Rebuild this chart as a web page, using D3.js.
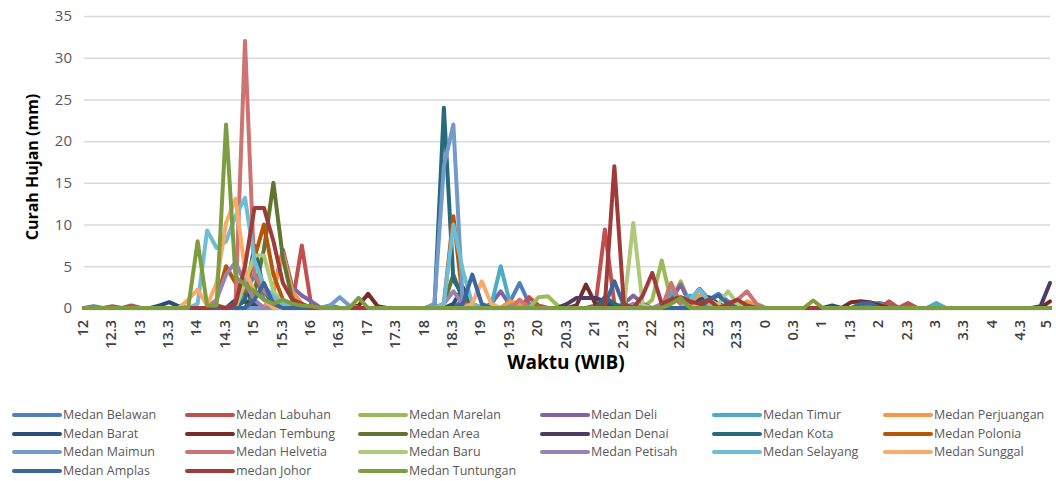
<!DOCTYPE html>
<html>
<head>
<meta charset="utf-8">
<title>Curah Hujan</title>
<script src="https://cdn.jsdelivr.net/npm/d3@7/dist/d3.min.js"></script>
<style>
  body { margin: 0; background: #fff; }
  svg { display: block; font-family: "Open Sans", sans-serif; }
</style>
</head>
<body>
<div id="chart"></div>
<script>
// tick labels on the time axis (every 30 minutes)
const tickLabels = ["12","12.3","13","13.3","14","14.3","15","15.3","16","16.3","17","17.3",
  "18","18.3","19","19.3","20","20.3","21","21.3","22","22.3","23","23.3",
  "0","0.3","1","1.3","2","2.3","3","3.3","4","4.3","5"];
const yTicks = [0, 5, 10, 15, 20, 25, 30, 35];

const names = ["Medan Belawan","Medan Labuhan","Medan Marelan","Medan Deli","Medan Timur","Medan Perjuangan",
  "Medan Barat","Medan Tembung","Medan Area","Medan Denai","Medan Kota","Medan Polonia",
  "Medan Maimun","Medan Helvetia","Medan Baru","Medan Petisah","Medan Selayang","Medan Sunggal",
  "Medan Amplas","medan Johor","Medan Tuntungan"];

const colors = ["#4F81BD","#C0504D","#9BBB59","#8064A2","#4BACC6","#F79646",
  "#2C4D75","#772C2A","#5F7530","#4D3B62","#276A7C","#B65708",
  "#729ACA","#CD7371","#AFC97A","#9983B5","#6FBDD1","#F9AB6B",
  "#3A679C","#9F3B38","#7E9D40"];

// rainfall every 10 minutes, 12.00 -> 5.00 (103 points); each line = 3 hours
const belawan = [
  0,0.2,0,0,0,0, 0,0,0,0,0,0, 0,0,0,0,0,1.5,
  4,1,0.5,0,0,0, 0,0,0.3,0,0,0, 0,0,0,0,0,0,
  0,0,0,0,0,0, 0,0,0,0.8,3,0.5, 0,0,0,0,0,0,
  0,0,0,0,0,0, 0,0,0,0,1,2.3, 1,1.7,0.8,0.3,0,0,
  0,0,0,0,0,0, 0,0,0,0,0,0.5, 0.6,0.3,0,0,0,0,
  0,0,0,0,0,0, 0,0,0,0,0,0, 0];
const labuhan = [
  0,0,0,0.2,0,0.3, 0,0,0,0,0,0, 0,0,0,0,0,0,
  0,0,0,0,0.5,7.5, 0.3,0,0,0,0,0, 0,0,0,0,0,0,
  0,0,0,0,0,0, 0,0,0,0,0,1.3, 0.3,0,0,0,0,0,
  0.3,9.4,0.5,0,0,0, 0,0,1.5,0.5,0,0, 0,0,0,0,0,0,
  0,0,0,0,0,0, 0,0,0,0,0,0, 0,0.8,0,0.6,0,0,
  0,0,0,0,0,0, 0,0,0,0,0,0, 0];
const marelan = [
  0,0,0,0,0,0, 0,0,0,0,0,0, 0,0,0,0,0,0,
  0,0,0,0,0,0, 0,0,0,0,0,0, 0,0,0,0,0,0,
  0,0,0,0,0,0, 0,0,0,0,0,0, 1.3,1.4,0.3,0,0,0,
  0,0,0,0,0,0, 1,5.7,0.8,3.2,0.5,0, 0,0,0,0.6,0,0,
  0,0,0,0,0,0, 0,0,0,0,0,0, 0,0,0,0,0,0,
  0,0,0,0,0,0, 0,0,0,0,0,0, 0];
const deli = [
  0,0,0,0,0,0, 0,0,0,0,0,0, 0,0,0,0,0,0,
  0,0,2,7,2.5,1.5, 0.8,0,0,0,0,0, 0,0,0,0,0,0,
  0,0.2,0,0,1,0, 0,0.5,2,0.3,0,0, 0,0,0,0,0,0,
  0,0,0,0.5,1.5,0.5, 0,0,1,2.8,0.5,0, 0,0,0,0,0,0,
  0,0,0,0,0,0, 0,0,0,0,0,0, 0,0,0,0,0,0,
  0.3,0,0,0,0,0, 0,0,0,0,0,0, 0];
const timur = [
  0,0,0,0,0,0, 0,0,0,0,0,0, 0,0,0,0,0,0,
  0,0,0,0,0,0, 0,0,0,0,0,0, 0,0,0,0,0,0,
  0,0,0,0,0,0, 0,0.3,5,0.5,0,0, 0,0,0,0,0,0,
  0,0,0,0,0,0, 0,0,2,1,1.5,0.8, 0,0,0,0,0,0,
  0,0,0,0,0,0, 0,0,0,0,0,0, 0,0,0,0,0,0,
  0.6,0,0,0,0,0, 0,0,0,0,0,0, 0];
const perjuangan = [
  0,0,0,0,0,0, 0,0,0,0,0,0, 0,0,0,0,0,0,
  0,0,2,6.5,2,0.5, 0,0,0,0,0,0, 0,0,0,0,0,0,
  0,0,0,0,0,0, 0,0,0,0.8,0.5,0, 0,0,0,0,0,0,
  0,0,0,0,0,0, 0,0,0,0,0.5,1.5, 0.5,0,0,0,0.8,0.3,
  0,0,0,0,0,0, 0,0,0,0,0,0, 0,0,0,0,0,0,
  0,0,0,0,0,0, 0,0,0,0,0,0, 0];
const barat = [
  0,0,0,0,0,0, 0,0,0.3,0.7,0.2,0, 0,0,0,0,1,2.2,
  0.5,0,0,0,0,0, 0,0,0,0,0,0, 0,0,0,0,0,0,
  0,0,0,0.5,2.5,0.5, 0,0,0,0,0,0, 0,0,0,0,0,0,
  0,0,0,0,0,0, 0,0,0,0,0,1, 1.3,0.5,0,0,0,0,
  0,0,0,0,0,0, 0,0.3,0,0,0,0, 0,0,0,0,0,0,
  0,0,0,0,0,0, 0,0,0,0,0,0, 0];
const tembung = [
  0,0,0,0,0,0, 0,0,0,0,0,0, 0,0,0,0,0,0,
  0,0,0,0,0,0, 0,0,0,0,0,0.3, 1.7,0.2,0,0,0,0,
  0,0,0,0,0,0, 0,0,0,0,0,0, 0,0,0,0,0.3,2.8,
  0.5,0.3,0,0,0,0, 0,0,0,0,0,0, 0,0,0,0,0,0,
  0,0,0,0,0,0, 0,0,0,0.7,0.8,0.7, 0.3,0,0,0,0,0,
  0,0,0,0,0,0, 0,0,0,0,0,0, 0.8];
const area = [
  0,0,0,0,0,0, 0,0,0,0,0,0, 0,0,0,0,0,0,
  2,7,15,6,1,0, 0,0,0,0,0,0, 0,0,0,0,0,0,
  0,0,0.5,4,1,0, 0,0,0,0,0,0, 0,0,0,0,0,0,
  0,0,0,0,0,0, 0,0,0,0,0,0, 0,0,0,0,0,0,
  0,0,0,0,0,0, 0,0,0,0,0,0, 0,0,0,0,0,0,
  0,0,0,0,0,0, 0,0,0,0,0,0, 0];
const denai = [
  0,0,0,0,0,0, 0,0,0,0,0,0, 0,0,0,0,0.3,0.8,
  0.3,0,0,0,0,0, 0,0,0,0,0,0, 0,0,0,0,0,0,
  0,0,0,0,0,0, 0,0,0,0,0,0, 0,0,0,0.5,1.2,1.2,
  1.2,0.8,0.3,0,0,0, 0,0,0,0,0,0, 0,0,0,0,0,0,
  0,0,0,0,0,0, 0,0,0,0,0,0, 0,0,0,0,0,0,
  0,0,0,0,0,0, 0,0,0,0,0,0.2, 3];
const kota = [
  0,0,0,0,0,0, 0,0,0,0,0,0, 0,0,0,0,0,1,
  7.5,2,0.5,0,0,0, 0,0,0,0,0,0, 0,0,0,0,0,0,
  0,0,24,3.4,1.5,0.5, 0,0,0,0,0,0, 0,0,0,0,0,0,
  0,1.3,0.5,0,0,0, 0,0,0,0,0,0, 0,0,0,0,0,0,
  0,0,0,0,0,0, 0,0,0,0,0,0, 0,0,0,0,0,0,
  0,0,0,0,0,0, 0,0,0,0,0,0, 0];
const polonia = [
  0,0,0,0,0,0, 0,0,0,0,0,0, 0,0,1,5,3,2,
  6,10,4,1,0,0, 0,0,0,0,0,0, 0,0,0,0,0,0,
  0,0,0.5,11,1,0, 0,0,0,0,0,0, 0,0,0,0,0,0,
  0,0,0,0,0,0, 0,0,0,0,0.8,0, 0,0,0,0,0,0,
  0,0,0,0,0,0, 0,0,0,0,0,0, 0,0,0,0,0,0,
  0,0,0,0,0,0, 0,0,0,0,0,0, 0];
const maimun = [
  0,0,0,0,0,0, 0,0,0,0,0,0, 0,0,0,0,0,0,
  0,0,0,0,0,0, 0,0,0.3,1.3,0.3,0, 0,0,0,0,0,0,
  0,0.5,17,22,0.5,0, 0,0,0,0,0,0, 0,0,0,0,0,0,
  0,0,0,0,0,0, 0,0,0,0,0,0, 0,0,0,0,0,0,
  0,0,0,0,0,0, 0,0,0,0,0,0, 0,0,0,0,0,0,
  0,0,0,0,0,0, 0,0,0,0,0,0, 0];
const helvetia = [
  0,0,0,0,0,0, 0,0,0,0,0,0, 0,0,0,0,0.5,32,
  4,2,1,0,0,0, 0,0,0,0,0,0, 0,0,0,0,0,0,
  0,0,0,0,0,0, 0,0,0,0,1,0, 0,0,0,0,0,0,
  0,0,0,0,0,0, 0,0,3,0.5,0,0, 0,0,0,1,2,0.5,
  0,0,0,0,0,0, 0,0,0,0,0,0, 0,0,0,0,0,0,
  0,0,0,0,0,0, 0,0,0,0,0,0, 0];
const baru = [
  0,0,0,0,0,0, 0,0,0,0,0,0, 0,0,0,0,0,3,
  6.3,6.3,2,0.5,0,0, 0,0,0,0,0,0, 0,0,0,0,0,0,
  0,0,0,0,0,0, 0,0,0,0,0,0, 0,0,0,0,0,0,
  0,0,0,0,10.2,0.3, 0,0,0,0,0,0, 0,0.5,2,0.5,0,0,
  0,0,0,0,0,0, 0,0,0,0,0,0, 0,0,0,0,0,0,
  0,0,0,0,0,0, 0,0,0,0,0,0, 0];
const petisah = [
  0,0,0,0,0,0, 0,0,0,0,0,0, 0,0,1,4,5.5,3,
  1,0,0,0,0,0, 0,0,0,0,0,0, 0,0,0,0,0,0,
  0,0,0.5,2,0.5,0, 0,0,0,0,0,0, 0,0,0,0,0,0,
  0,0,0,0,0.5,0, 0,0.5,0,0,0,0, 0,0,0,0,0,0,
  0,0,0,0,0,0, 0,0,0,0,0,0, 0,0,0,0,0,0,
  0,0,0,0,0,0, 0,0,0,0,0,0, 0];
const selayang = [
  0,0,0,0,0,0, 0,0,0,0,0,0, 0.5,9.3,7.2,8,11,13.2,
  5.7,2.6,1.4,0.5,0,0, 0,0,0,0,0,0, 0,0,0,0,0,0,
  0,0,0.5,10,4.5,0.5, 0,0,0,0,0,0, 0,0,0,0,0,0,
  0,0,0,0,0,0, 0,0,0,0,1,2.2, 0.8,0,0,0,0,0,
  0,0,0,0,0,0, 0,0,0,0,0,0, 0,0,0,0,0,0,
  0,0,0,0,0,0, 0,0,0,0,0,0, 0];
const sunggal = [
  0,0,0,0,0,0, 0,0,0,0,0,1, 2.2,0.3,3,10.2,13.1,4.5,
  2,1,0,0,0,0, 0,0,0,0,0,0, 0,0,0,0,0,0,
  0,0,0,0,0,0.5, 3.2,0.5,0,0,0,0, 0,0,0,0,0,0,
  0,0,0,0,0,0, 0,0,0,0,0,0.5, 1,0.3,0,0,0,0,
  0,0,0,0,0,0, 0,0,0,0,0,0, 0,0,0,0,0,0,
  0,0,0,0,0,0, 0,0,0,0,0,0, 0];
const amplas = [
  0,0,0,0,0,0, 0,0,0,0,0,0, 0,0,0,0,0,0,
  1,3,0.5,0,0,0, 0,0,0,0,0,0, 0,0,0,0,0,0,
  0,0,0,0,0.5,4, 0.5,0,0,0,0,0, 0,0,0,0,0,0,
  0,0.3,3.2,0.3,0,0, 0,0,0,0,0,0, 1,1.5,0.5,0,0,0,
  0,0,0,0,0,0, 0,0,0,0,0.5,0.6, 0,0,0,0,0,0,
  0,0,0,0,0,0, 0,0,0,0,0,0, 0];
const johor = [
  0,0,0,0,0,0, 0,0,0,0,0,0, 0,0,0.3,0,0.5,5,
  12,12,8,3,1,0.5, 0,0,0,0,0,0, 0,0,0,0,0,0,
  0,0,0,0,0,0, 0,0,0,0,0,0, 0,0,0,0,0,0,
  0,0.5,17,0.5,0,1.5, 4.2,0.5,1,1.3,0.8,0.5, 1,0,0.5,1,0.3,0,
  0,0,0,0,0,0, 0,0,0,0,0,0, 0,0,0,0,0,0,
  0,0,0,0,0,0, 0,0,0,0,0,0, 0];
const tuntungan = [
  0,0,0,0,0,0, 0,0,0,0,0,0, 8,0.3,0.3,22,3.7,2.8,
  2,1,0.5,1,0.5,0.3, 0.2,0,0,0,0,1.2, 0,0,0,0,0,0,
  0,0,0,0,0,0, 0,0,0,0,0,0, 0,0,0,0,0,0,
  0,0,0,0,0,0, 0,0,0.5,1.2,0,0, 0,0,0,0,0,0,
  0,0,0,0,0,0.9, 0,0,0,0,0,0, 0,0,0,0,0,0,
  0,0,0,0,0,0, 0,0,0,0,0,0, 0];

const seriesValues = [belawan, labuhan, marelan, deli, timur, perjuangan,
  barat, tembung, area, denai, kota, polonia,
  maimun, helvetia, baru, petisah, selayang, sunggal,
  amplas, johor, tuntungan];

const W = 1056, H = 481;
const plot = { left: 84, right: 1050, top: 16, bottom: 308 };
const nPts = 103;

const svg = d3.select("#chart").append("svg")
  .attr("width", W).attr("height", H);
svg.append("rect").attr("width", W).attr("height", H).attr("fill", "#fff");

const x = d3.scaleLinear().domain([0, nPts - 1]).range([plot.left, plot.right]);
const y = d3.scaleLinear().domain([0, 35]).range([plot.bottom, plot.top]);

// gridlines
svg.append("g")
  .attr("transform", "translate(" + plot.left + ",0)")
  .call(d3.axisLeft(y).tickValues(yTicks.slice(1)).tickSize(-(plot.right - plot.left)).tickFormat(""))
  .call(g => g.select(".domain").remove())
  .call(g => g.selectAll("line").attr("stroke", "#d9d9d9").attr("stroke-width", 1.5));

// y tick labels
svg.append("g")
  .attr("transform", "translate(" + (plot.left - 12) + ",0)")
  .call(d3.axisLeft(y).tickValues(yTicks).tickSize(0).tickPadding(0))
  .call(g => g.select(".domain").remove())
  .call(g => g.selectAll("text")
    .attr("fill", "#595959").style("font-size", "15px").style("font-family", "Open Sans"));

// baseline
svg.append("line")
  .attr("x1", plot.left).attr("x2", plot.right)
  .attr("y1", y(0) + 1).attr("y2", y(0) + 1)
  .attr("stroke", "#bfbfbf").attr("stroke-width", 2.5);

// x axis labels (every 3rd point)
const tickIdx = tickLabels.map((d, i) => i * 3);
svg.append("g")
  .attr("transform", "translate(0," + (plot.bottom + 12) + ")")
  .call(d3.axisBottom(x).tickValues(tickIdx).tickSize(0).tickPadding(0)
    .tickFormat((d, i) => tickLabels[i]))
  .call(g => g.select(".domain").remove())
  .call(g => g.selectAll("text")
    .attr("transform", "rotate(-90)")
    .attr("text-anchor", "end")
    .attr("x", 0).attr("y", 0)
    .attr("dy", (d, i) => i === tickLabels.length - 1 ? "0.02em" : "0.22em")
    .attr("fill", "#404040").style("font-size", "14.5px")
    .style("font-family", "Open Sans").style("font-weight", "600"));

// lines
const line = d3.line().x((d, i) => x(i)).y(d => y(d));
svg.append("g").selectAll("path")
  .data(seriesValues)
  .join("path")
  .attr("d", line)
  .attr("fill", "none")
  .attr("stroke", (d, i) => colors[i])
  .attr("stroke-width", 4)
  .attr("stroke-linejoin", "round")
  .attr("stroke-linecap", "round");

// axis titles
svg.append("text")
  .attr("transform", "translate(38," + ((plot.top + plot.bottom) / 2 + 5) + ") rotate(-90)")
  .attr("text-anchor", "middle")
  .style("font-size", "16px").style("font-weight", "bold").attr("fill", "#000")
  .text("Curah Hujan (mm)");

svg.append("text")
  .attr("x", 566).attr("y", 369)
  .attr("text-anchor", "middle")
  .style("font-size", "19px").style("font-weight", "bold").attr("fill", "#000")
  .text("Waktu (WIB)");

// legend
const legCols = [12, 185, 358, 540, 712, 883];
const legRows = [415, 434, 452, 471];
const leg = svg.append("g").selectAll("g")
  .data(names)
  .join("g")
  .attr("transform", (d, i) => "translate(" + legCols[i % 6] + "," + legRows[Math.floor(i / 6)] + ")");
leg.append("line")
  .attr("x1", 2).attr("x2", 48).attr("y1", 0).attr("y2", 0)
  .attr("stroke", (d, i) => colors[i]).attr("stroke-width", 4).attr("stroke-linecap", "round");
leg.append("text")
  .attr("x", 51).attr("y", 0).attr("dy", "0.35em")
  .attr("fill", "#595959").style("font-size", "12.5px")
  .text(d => d);
</script>
</body>
</html>
